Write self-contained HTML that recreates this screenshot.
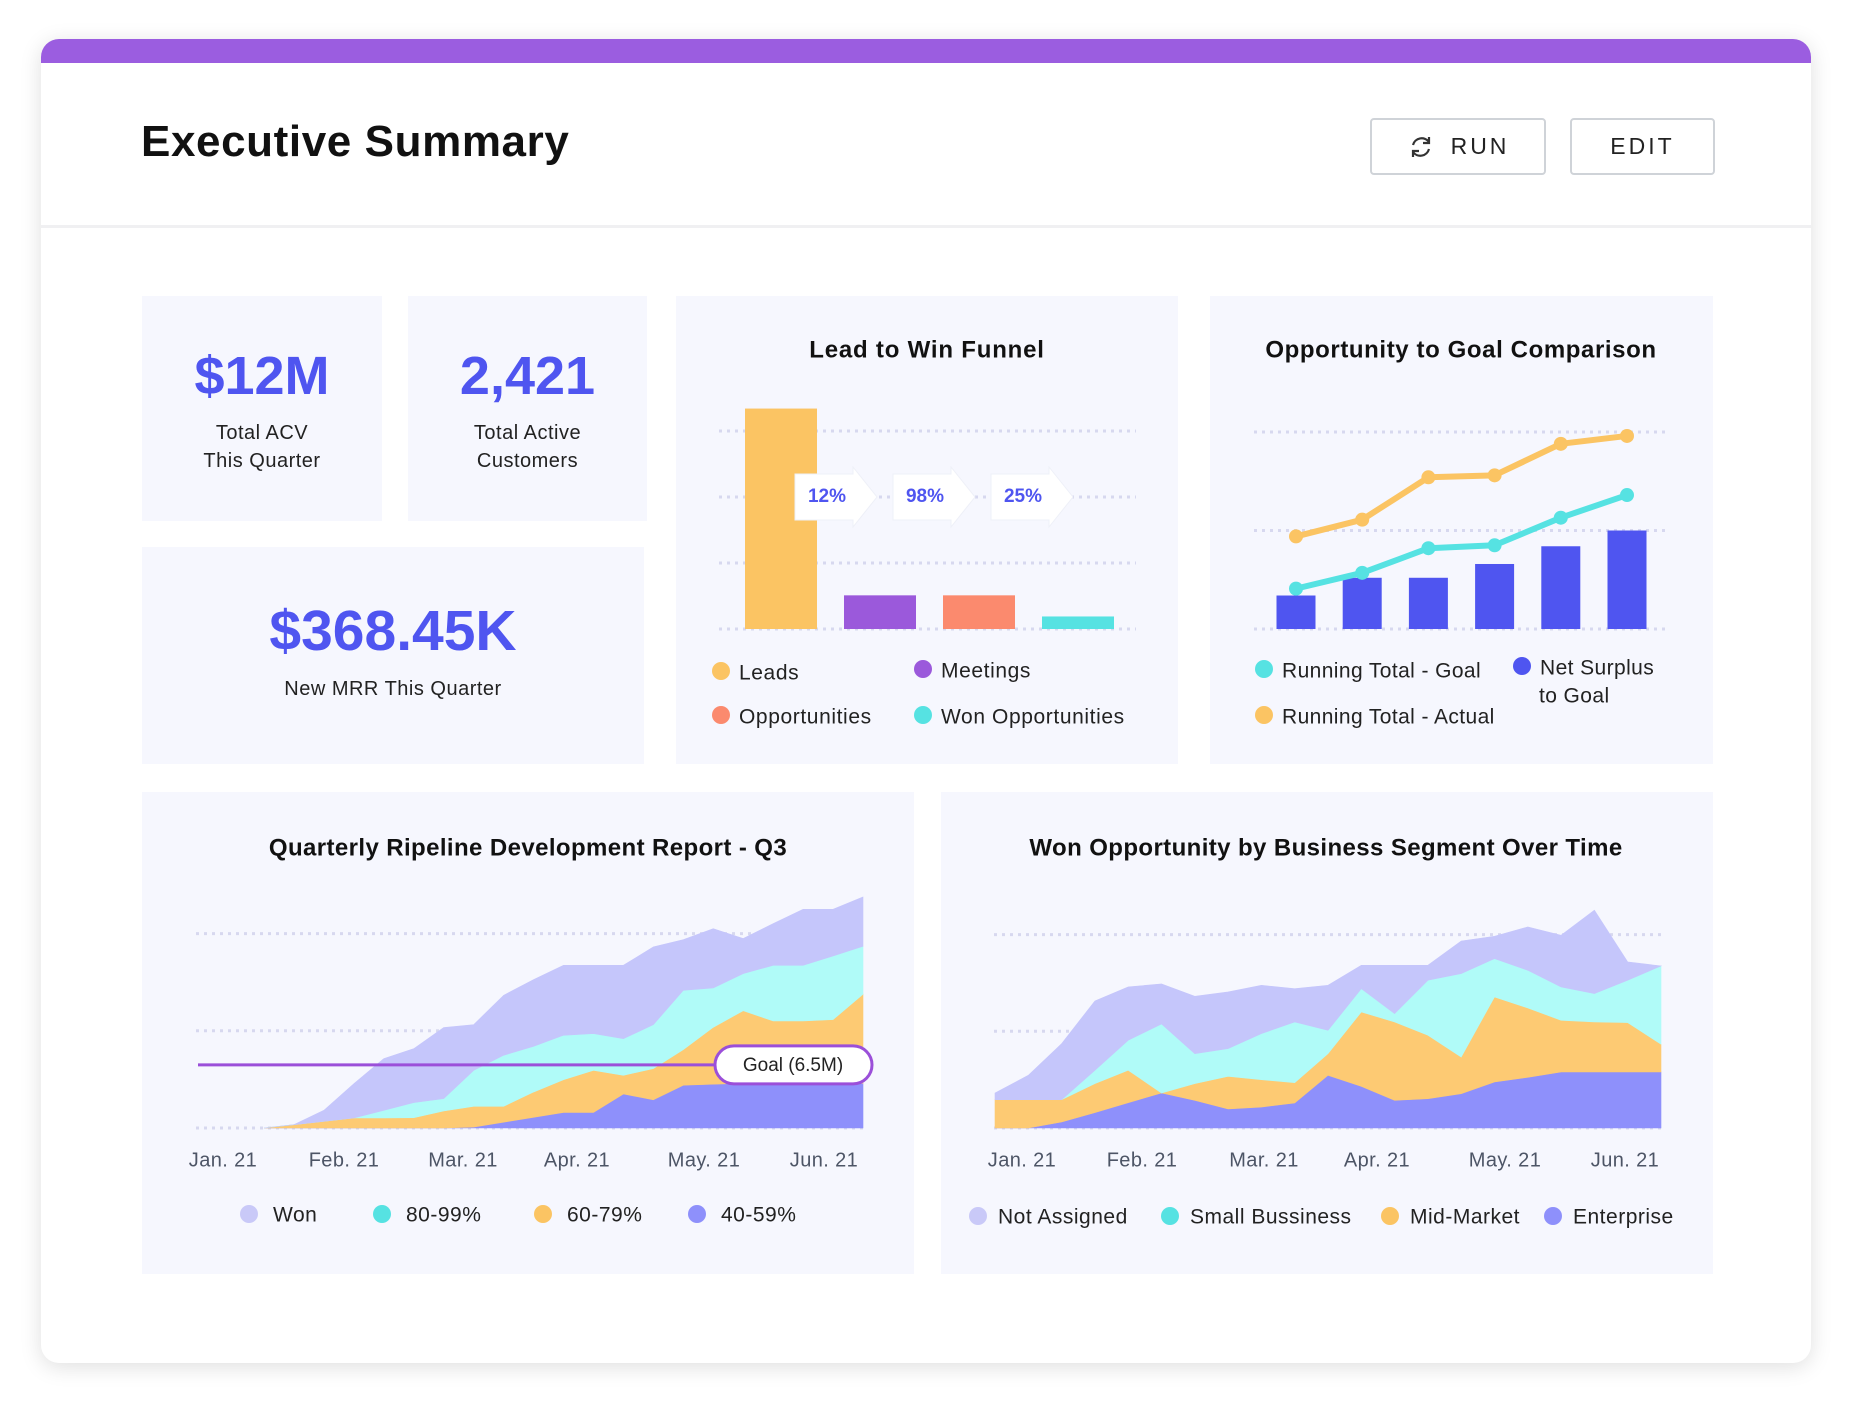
<!DOCTYPE html>
<html><head><meta charset="utf-8">
<style>
html,body{margin:0;padding:0;background:#fff;}
body{width:1853px;height:1406px;position:relative;overflow:hidden;font-family:"Liberation Sans",sans-serif;}
.card{position:absolute;left:41px;top:39px;width:1770px;height:1324px;background:#fff;border-radius:18px;box-shadow:0 4px 22px rgba(0,0,0,0.13);overflow:hidden;}
.topbar{position:absolute;left:0;top:0;width:100%;height:24px;background:#9b5de0;}
.divider{position:absolute;left:0;top:186px;width:100%;height:3px;background:#f0f0f2;}
.title{position:absolute;left:100px;top:78px;font-size:44px;font-weight:bold;color:#111;letter-spacing:0.6px;}
.btn{position:absolute;top:79px;height:57px;border:2px solid #cfd3d8;border-radius:4px;background:#fff;box-sizing:border-box;font-size:23px;letter-spacing:3px;color:#222;display:flex;align-items:center;justify-content:center;}
.panel{position:absolute;background:#f6f7fe;}
.big{position:absolute;width:100%;text-align:center;color:#4f55f0;font-weight:bold;}
.lbl{position:absolute;width:100%;text-align:center;color:#222;font-size:20px;line-height:28px;letter-spacing:0.5px;}
svg text{font-family:"Liberation Sans",sans-serif;}
</style></head><body>
<div class="card">
 <div class="topbar"></div>
 <div class="title">Executive Summary</div>
 <div class="btn" style="left:1329px;width:176px;">
  <svg width="28" height="28" viewBox="0 0 28 28" style="margin-right:16px"><path d="M6 12 A9 9 0 0 1 22 9" fill="none" stroke="#333" stroke-width="2.2"/><path d="M22 16 A9 9 0 0 1 6 19" fill="none" stroke="#333" stroke-width="2.2"/><path d="M22 4 L22 10 L16 10" fill="none" stroke="#333" stroke-width="2.2"/><path d="M6 24 L6 18 L12 18" fill="none" stroke="#333" stroke-width="2.2"/></svg>RUN</div>
 <div class="btn" style="left:1529px;width:145px;">EDIT</div>
 <div class="divider"></div>
</div>

<div class="panel" style="left:142px;top:296px;width:240px;height:225px;">
 <div class="big" style="top:49px;font-size:54px;">$12M</div>
 <div class="lbl" style="top:123px;">Total ACV<br>This Quarter</div>
</div>
<div class="panel" style="left:408px;top:296px;width:239px;height:225px;">
 <div class="big" style="top:49px;font-size:54px;">2,421</div>
 <div class="lbl" style="top:123px;">Total Active<br>Customers</div>
</div>
<div class="panel" style="left:142px;top:547px;width:502px;height:217px;">
 <div class="big" style="top:51px;font-size:57px;">$368.45K</div>
 <div class="lbl" style="top:128px;">New MRR This Quarter</div>
</div>
<div class="panel" style="left:676px;top:296px;width:502px;height:468px;"></div>
<div class="panel" style="left:1210px;top:296px;width:503px;height:468px;"></div>
<div class="panel" style="left:142px;top:792px;width:772px;height:482px;"></div>
<div class="panel" style="left:941px;top:792px;width:772px;height:482px;"></div>

<svg id="charts" width="1853" height="1406" style="position:absolute;left:0;top:0;"></svg>

<script>
// ---- Funnel data ----
const funnelCats = ["Leads","Meetings","Opportunities","Won Opportunities"];
const funnelVals = [3340, 510, 510, 190];
const funnelRates = ["12%","98%","25%"];
// ---- Goal comparison data ----
const goalBars = [34, 52, 52, 66, 84, 100];
const goalRunning = [41, 57, 82, 85, 113, 136];
const actualRunning = [94, 111, 154, 156, 188, 196];
// ---- Pipeline data (M) ----
const pipeMonths = ["Jan. 21","Feb. 21","Mar. 21","Apr. 21","May. 21","Jun. 21"];
const pipe4059 = [0,0,0,0,0,0,0,0.1,0.6,1.1,1.6,1.6,3.5,2.9,4.4,4.5,4.6,4.6,4.6,4.6,4.6];
const pipe6079 = [0,0.34,0.69,1.03,1.03,1.06,1.75,2.13,1.63,2.6,3.37,4.33,1.92,3.21,3.66,5.86,7.47,6.41,6.41,6.55,9.16];
const pipe8099 = [0,0,0,0,0.79,1.55,1.27,3.7,5.25,4.7,4.57,3.78,3.77,4.52,6.11,4.05,3.81,5.73,5.73,6.55,4.94];
const pipeWon = [0,0,1.13,3.53,5.32,5.55,7.31,4.7,6.17,6.86,7.2,7.03,7.55,8.0,5.21,6.1,3.61,4.29,5.76,4.8,5.07];
const pipeGoal = 6.5;
// ---- Segment data ----
const segMonths = ["Jan. 21","Feb. 21","Mar. 21","Apr. 21","May. 21","Jun. 21"];
const segEnterprise = [0,0,0.62,1.59,2.62,3.62,2.86,1.97,2.17,2.59,5.45,4.31,2.86,3.03,3.55,4.76,5.24,5.79,5.79,5.79,5.79];
const segMid = [2.93,2.93,2.31,3.0,3.35,0,1.73,3.37,2.83,2.1,2.24,7.69,8.11,6.56,3.79,8.79,7.17,5.35,5.18,5.11,2.87];
const segSmall = [0,0,0,1.38,3.1,7.14,3.1,2.87,4.76,6.28,2.41,2.41,0.86,5.69,8.63,3.97,3.9,3.45,2.93,4.38,8.1];
const segNone = [0.69,2.52,5.79,7.17,5.52,4.14,5.93,5.86,5.0,3.44,4.66,2.42,5.0,1.55,3.37,2.31,4.48,5.34,8.62,1.89,0];

const NS="http://www.w3.org/2000/svg";
const svg=document.getElementById('charts');
function mk(tag,attrs,parent){const e=document.createElementNS(NS,tag);for(const k in attrs)e.setAttribute(k,attrs[k]);(parent||svg).appendChild(e);return e;}
function txt(x,y,s,size,fill,anchor,weight,ls){const t=mk('text',{x:x,y:y,'font-size':size,fill:fill,'text-anchor':anchor||'middle','font-weight':weight||'normal','dominant-baseline':'middle','letter-spacing':ls||0});t.textContent=s;return t;}
function grid(x1,x2,y){return mk('line',{x1:x1,x2:x2,y1:y,y2:y,stroke:'#d7d8ef','stroke-width':3,'stroke-dasharray':'3 5'});}

// ===== Funnel =====
{
 const t=txt(927,351,"Lead to Win Funnel",24,'#111','middle','bold',0.8);
 
 
 const base=629, unit=66/1000;
 const y=v=>base-v*unit;
 [0,1000,2000,3000].forEach(v=>{const g=grid(719,1136,y(v));
  
  });
 const colors=['#fbc463','#9b59db','#fb8a6e','#56e2e2'];
 funnelVals.forEach((v,i)=>{
  const r=mk('rect',{x:745+i*99,y:y(v),width:72,height:v*unit,fill:colors[i]});
  
  
 });
 funnelRates.forEach((s,i)=>{
  const x0=795+i*98;
  const p=mk('path',{d:`M${x0} 474 L${x0+58} 474 L${x0+58} 467 L${x0+82} 497 L${x0+58} 527 L${x0+58} 520 L${x0} 520 Z`,fill:'#fff',stroke:'#eef0f8','stroke-width':1});
  
  
  const tt=txt(x0+32,497,s,19,'#4f55f0','middle','bold');
  
  
 });
 const lp=[[721,671],[923,669],[721,715],[923,715]];
 funnelCats.forEach((c,i)=>{
  const d=mk('circle',{cx:lp[i][0],cy:lp[i][1],r:9,fill:colors[i]});
  
  
  const tt=txt(lp[i][0]+18,lp[i][1]+3,c,21,'#222','start','normal',0.6);
  
  
 });
}

// ===== Goal comparison =====
{
 const t=txt(1461,351,"Opportunity to Goal Comparison",24,'#111','middle','bold',0.6);
 
 
 const base=629, unit=98.5/100;
 const y=v=>base-v*unit, x=i=>1296+i*66.2;
 [0,100,200].forEach(v=>{const g=grid(1254,1670,y(v));
  
  });
 goalBars.forEach((v,i)=>{
  const r=mk('rect',{x:x(i)-19.5,y:y(v),width:39,height:v*unit,fill:'#4f55f0'});
  
  
 });
 [[goalRunning,'#56e2e2','running-total-goal'],[actualRunning,'#fbc463','running-total-actual']].forEach(([arr,c,n])=>{
  const l=mk('polyline',{points:arr.map((v,i)=>x(i)+','+y(v)).join(' '),fill:'none',stroke:c,'stroke-width':6,'stroke-linejoin':'round'});
  
  
  arr.forEach((v,i)=>{const p=mk('circle',{cx:x(i),cy:y(v),r:7,fill:c});
   
   });
 });
 const items=[[1264,669,'#56e2e2','Running Total - Goal'],[1522,666,'#4f55f0','Net Surplus'],[1264,715,'#fbc463','Running Total - Actual']];
 items.forEach(it=>{
  const d=mk('circle',{cx:it[0],cy:it[1],r:9,fill:it[2]});
  
  
  const tt=txt(it[0]+18,it[1]+3,it[3],21,'#222','start','normal',0.4);
  
  
 });
 const t2=txt(1539,697,'to Goal',21,'#222','start','normal',0.4);
 
 
}

// ===== Stacked area helper =====
function stacked(layers,colors,names,x0,dx,base,unit){
 const n=layers[0].length; let lower=new Array(n).fill(0);
 layers.forEach((arr,li)=>{
  const upper=lower.map((v,i)=>v+arr[i]);
  let pts=upper.map((v,i)=>(x0+i*dx)+','+(base-v*unit));
  for(let i=n-1;i>=0;i--)pts.push((x0+i*dx)+','+(base-lower[i]*unit));
  const p=mk('polygon',{points:pts.join(' '),fill:colors[li],stroke:colors[li],'stroke-width':0.6});
  
  
  lower=upper;
 });
}

// ===== Pipeline chart =====
{
 const t=txt(528,849,"Quarterly Ripeline Development Report - Q3",24,'#111','middle','bold',0.4);
 
 
 const base=1128, unit=9.72;
 [0,10,20].forEach(v=>{const g=grid(196,864,base-v*unit);
  
  });
 stacked([pipe4059,pipe6079,pipe8099,pipeWon],['#8e90fb','#fdca73','#b0fbf8','#c5c6fb'],['pipe-40-59','pipe-60-79','pipe-80-99','pipe-won'],264,29.95,base,unit);
 const gy=base-pipeGoal*unit;
 const gl=mk('line',{x1:198,x2:716,y1:gy,y2:gy,stroke:'#9b4fd9','stroke-width':3});
 
 
 const gr=mk('rect',{x:715,y:gy-19,width:157,height:38,rx:19,fill:'#fff',stroke:'#9b4fd9','stroke-width':3});
 
 
 const gt=txt(793,gy+1,'Goal (6.5M)',19,'#222');
 
 
 const lx=[223,344,463,577,704,824];
 pipeMonths.forEach((m,i)=>{const tt=txt(lx[i],1161,m,20,'#4d5566','middle','normal',0.4);
  
  });
 const leg=[[249,'#c9c9f8','Won'],[382,'#56e2e2','80-99%'],[543,'#fbc463','60-79%'],[697,'#8e90fb','40-59%']];
 leg.forEach(l=>{const d=mk('circle',{cx:l[0],cy:1214,r:9,fill:l[1]});
  
  
  const tt=txt(l[0]+24,1216,l[2],21,'#222','start','normal',0.5);
  
  });
}

// ===== Segment chart =====
{
 const t=txt(1326,849,"Won Opportunity by Business Segment Over Time",24,'#111','middle','bold',0.4);
 
 
 const base=1128, unit=9.67;
 [0,10,20].forEach(v=>{const g=grid(994,1662,base-v*unit);
  
  });
 stacked([segEnterprise,segMid,segSmall,segNone],['#8e90fb','#fdca73','#b0fbf8','#c5c6fb'],['seg-enterprise','seg-mid-market','seg-small-business','seg-not-assigned'],995,33.3,base,unit);
 const lx=[1022,1142,1264,1377,1505,1625];
 segMonths.forEach((m,i)=>{const tt=txt(lx[i],1161,m,20,'#4d5566','middle','normal',0.4);
  
  });
 const leg=[[978,'#c9c9f8','Not Assigned'],[1170,'#56e2e2','Small Bussiness'],[1390,'#fbc463','Mid-Market'],[1553,'#8e90fb','Enterprise']];
 leg.forEach(l=>{const d=mk('circle',{cx:l[0],cy:1216,r:9,fill:l[1]});
  
  
  const tt=txt(l[0]+20,1218,l[2],21,'#222','start','normal',0.5);
  
  });
}
</script>
</body></html>
